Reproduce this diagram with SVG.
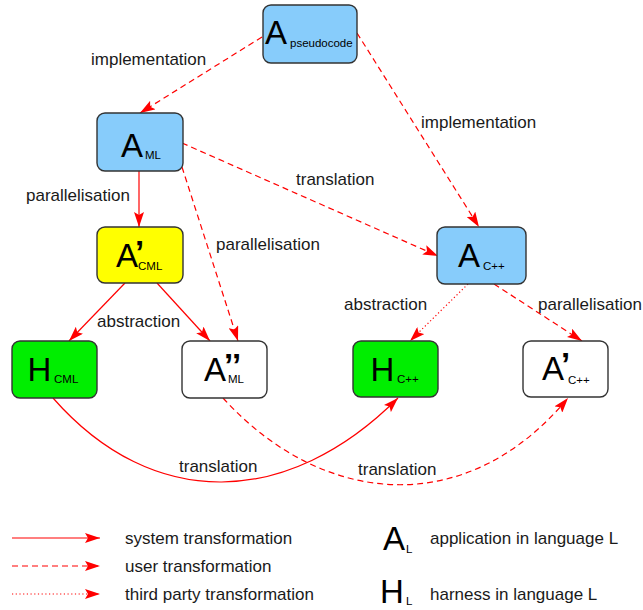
<svg xmlns="http://www.w3.org/2000/svg" width="643" height="610" viewBox="0 0 643 610">
<defs>
<marker id="ah" markerWidth="15" markerHeight="10" refX="15" refY="5" orient="auto" markerUnits="userSpaceOnUse"><path d="M0,0 L15,5 L0,10 L3,5 z" fill="#ff0000"/></marker>
<style>
.box{stroke:#333;stroke-width:1.4}
.blue{fill:#87ccfb}
.yellow{fill:#ffff00}
.green{fill:#00ee00}
.white{fill:#ffffff}
.big{font-family:"Liberation Sans",Arial,sans-serif;font-size:33px;fill:#000}
.sub{font-family:"Liberation Sans",Arial,sans-serif;font-size:11.5px;fill:#000}
.pr{font-weight:bold}
.lbl{font-family:"Liberation Sans",Arial,sans-serif;font-size:17px;fill:#1a1a1a}
.e{fill:none;stroke:#ff0000;stroke-width:1.2;marker-end:url(#ah)}
.dash{stroke-dasharray:6 4}
.dot{stroke-dasharray:1.2 2.5}
</style>
</defs>
<rect width="643" height="610" fill="#fff"/>

<g id="connectors">
<path class="e dash" d="M262,37 L140,113"/>
<path class="e dash" d="M357,33 L479,227"/>
<path class="e" d="M139,171 L139,227"/>
<path class="e dash" d="M182,143 L438,256"/>
<path class="e dash" d="M182,167 L238,341"/>
<path class="e" d="M125,283 L69,341"/>
<path class="e" d="M157,283 L210,341"/>
<path class="e dot" d="M468,284 L410,341"/>
<path class="e dash" d="M494,284 L582,341"/>
<path class="e" d="M53,398 C153,512 288,508 398,398"/>
<path class="e dash" d="M223,398 C320,505 465,522 568,398"/>
</g>

<g id="edge-labels">
<text class="lbl" x="91" y="65">implementation</text>
<text class="lbl" x="421" y="128">implementation</text>
<text class="lbl" x="26" y="201">parallelisation</text>
<text class="lbl" x="216" y="250">parallelisation</text>
<text class="lbl" x="296" y="185">translation</text>
<text class="lbl" x="97" y="327">abstraction</text>
<text class="lbl" x="344" y="310">abstraction</text>
<text class="lbl" x="538" y="310">parallelisation</text>
<text class="lbl" x="179" y="472">translation</text>
<text class="lbl" x="358" y="475">translation</text>
</g>

<g id="A_pseudocode">
<rect class="box blue" x="263" y="5" width="94" height="58" rx="8"/>
<text class="big" x="265" y="44">A<tspan class="sub" x="290" y="47">pseudocode</tspan></text>
</g>
<g id="A_ML">
<rect class="box blue" x="97" y="113" width="86" height="58" rx="8"/>
<text class="big" x="121" y="157">A<tspan class="sub" x="145" y="159">ML</tspan></text>
</g>
<g id="A1_CML">
<rect class="box yellow" x="97" y="227" width="86" height="56" rx="8"/>
<text class="big" x="116" y="267">A<tspan class="pr" dx="-3" dy="-3">’</tspan><tspan class="sub" x="138" y="270">CML</tspan></text>
</g>
<g id="H_CML">
<rect class="box green" x="12" y="341" width="85" height="57" rx="8"/>
<text class="big" x="27.5" y="381">H<tspan class="sub" x="54" y="383">CML</tspan></text>
</g>
<g id="A2_ML">
<rect class="box white" x="182" y="341" width="85" height="57" rx="8"/>
<text class="big" x="204" y="381">A<tspan class="pr" dx="-2" dy="-4">’’</tspan><tspan class="sub" x="228" y="383">ML</tspan></text>
</g>
<g id="A_Cpp">
<rect class="box blue" x="437" y="227" width="89" height="57" rx="8"/>
<text class="big" x="458" y="267">A<tspan class="sub" x="483" y="270">C++</tspan></text>
</g>
<g id="H_Cpp">
<rect class="box green" x="353" y="341" width="85" height="56" rx="8"/>
<text class="big" x="370.5" y="381">H<tspan class="sub" x="397" y="383">C++</tspan></text>
</g>
<g id="A1_Cpp">
<rect class="box white" x="523" y="341" width="85" height="56" rx="8"/>
<text class="big" x="542" y="380">A<tspan class="pr" dx="-3" dy="-4">’</tspan><tspan class="sub" x="568" y="384">C++</tspan></text>
</g>

<g id="legend">
<path class="e" d="M12,538 L100,538"/>
<path class="e dash" d="M12,566 L100,566"/>
<path class="e dot" d="M12,594 L100,594"/>
<text class="lbl" x="125" y="544">system transformation</text>
<text class="lbl" x="125" y="572">user transformation</text>
<text class="lbl" x="125" y="600">third party transformation</text>
<text class="big" x="383" y="550">A<tspan class="sub" x="406" y="553">L</tspan></text>
<text class="lbl" x="430" y="544">application in language L</text>
<text class="big" x="380" y="603">H<tspan class="sub" x="406" y="605">L</tspan></text>
<text class="lbl" x="430" y="600">harness in language L</text>
</g>
</svg>
